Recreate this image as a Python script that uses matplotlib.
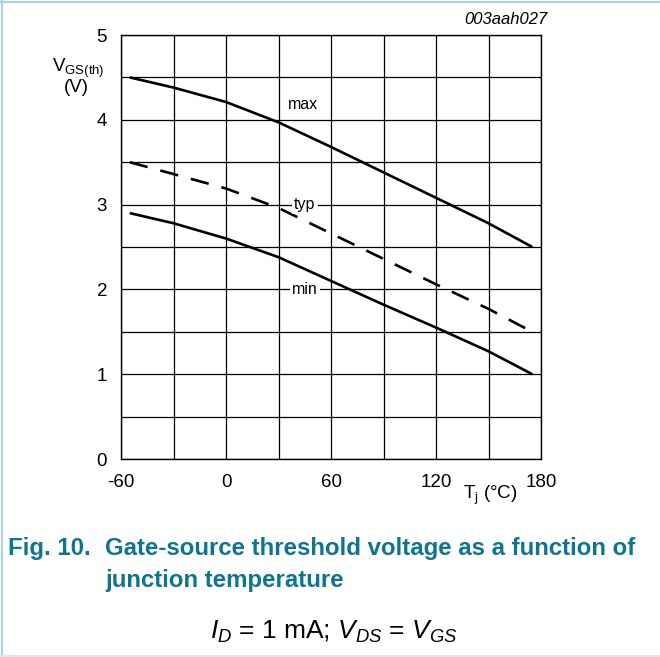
import matplotlib
matplotlib.use("Agg")
import matplotlib.pyplot as plt
from matplotlib.lines import Line2D

plt.rcParams['font.family'] = ['Liberation Sans', 'DejaVu Sans']
plt.rcParams['mathtext.fontset'] = 'custom'
plt.rcParams['mathtext.rm'] = 'Liberation Sans'
plt.rcParams['mathtext.it'] = 'Liberation Sans:italic'
plt.rcParams['axes.unicode_minus'] = False

temps = [-55, -30, 0, 30, 60, 90, 120, 150, 175]
v_max = [4.50, 4.38, 4.21, 3.97, 3.68, 3.38, 3.08, 2.78, 2.50]
v_typ = [3.50, 3.36, 3.19, 2.96, 2.66, 2.36, 2.06, 1.77, 1.50]
v_min = [2.90, 2.78, 2.60, 2.38, 2.10, 1.82, 1.55, 1.27, 1.00]

x_ticks = [-60, 0, 60, 120, 180]
y_ticks = [0, 1, 2, 3, 4, 5]

fig = plt.figure(figsize=(6.6, 6.57), dpi=100)
ax = fig.add_axes([121/660, 1-459/657, 420/660, 424/657])

ax.set_xlim(-60, 180)
ax.set_ylim(0, 5)
ax.set_xticks(x_ticks)
ax.set_yticks(y_ticks)
ax.set_xticks([-30, 30, 90, 150], minor=True)
ax.set_yticks([0.5, 1.5, 2.5, 3.5, 4.5], minor=True)
ax.grid(True, which='both', color='black', lw=0.9)
ax.set_axisbelow(True)
ax.tick_params(which='both', length=0, labelsize=13.5)
ax.tick_params(axis='x', pad=11)
ax.tick_params(axis='y', pad=10)
for s in ax.spines.values():
    s.set_linewidth(1.0)

ax.plot(temps, v_max, color='black', lw=1.9, solid_capstyle='butt')
ax.plot(temps, v_typ, color='black', lw=1.9, dashes=(7, 5))
ax.plot(temps, v_min, color='black', lw=1.9, solid_capstyle='butt')

ax.text(44, 4.18, 'max', fontsize=11.5, ha='center', va='center')
ax.text(45, 3.0, 'typ', fontsize=11.5, ha='center', va='center',
        bbox=dict(facecolor='white', edgecolor='none', pad=1.5))
ax.text(45, 2.0, 'min', fontsize=11.5, ha='center', va='center',
        bbox=dict(facecolor='white', edgecolor='none', pad=1.5))

fig.text(78/660, 1-68/657, r'V$_{\mathrm{GS(th)}}$', fontsize=13.5, ha='center', va='center')
fig.text(76/660, 1-88/657, '(V)', fontsize=13.5, ha='center', va='center')
fig.text(490/660, 1-495/657, r'T$_{\mathrm{j}}$ (°C)', fontsize=13.5, ha='center', va='center')
fig.text(548/660, 1-20/657, '003aah027', fontsize=12, style='italic', ha='right', va='center')

teal = '#0f7490'
fig.text(8/660, 1-549/657, 'Fig. 10.', fontsize=17.3, fontweight='bold', color=teal,
         ha='left', va='center')
fig.text(105/660, 1-549/657, 'Gate-source threshold voltage as a function of',
         fontsize=17.3, fontweight='bold', color=teal, ha='left', va='center')
fig.text(105/660, 1-581/657, 'junction temperature',
         fontsize=17.3, fontweight='bold', color=teal, ha='left', va='center')
fig.text(334/660, 1-632/657, r'$I_D$ = 1 mA; $V_{DS}$ = $V_{GS}$',
         fontsize=19, ha='center', va='center')

border = '#a9d3de'
fig.add_artist(Line2D([2/660, 2/660], [0, 1], transform=fig.transFigure, color=border, lw=1.5))
fig.add_artist(Line2D([0, 1], [1-1.5/657, 1-1.5/657], transform=fig.transFigure, color=border, lw=1.5))
fig.add_artist(Line2D([0, 1], [1.5/657, 1.5/657], transform=fig.transFigure, color='#d5ebf0', lw=1.5))

fig.savefig('out.png', dpi=100)
